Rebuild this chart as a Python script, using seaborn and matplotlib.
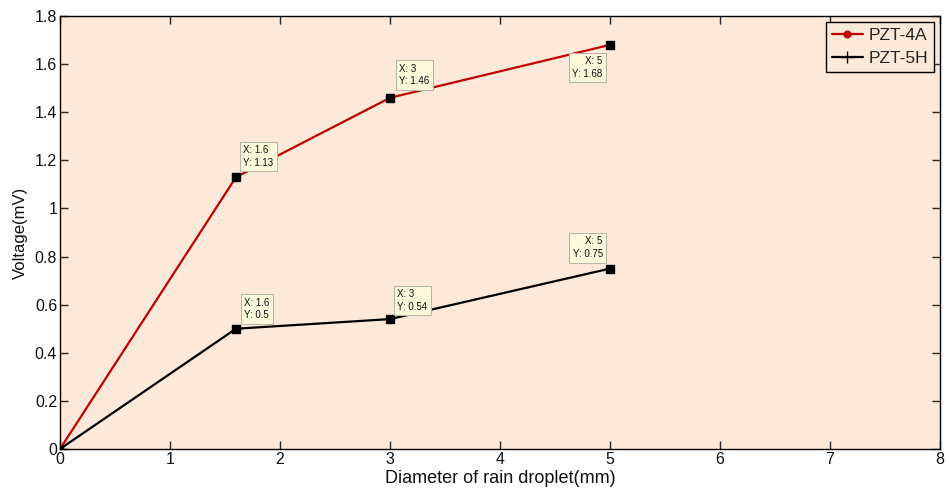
import matplotlib
matplotlib.use("Agg")
import matplotlib.pyplot as plt
import seaborn as sns
import pandas as pd

diameter = [0, 1.6, 3, 5]
pzt4a = [0, 1.13, 1.46, 1.68]
pzt5h = [0, 0.5, 0.54, 0.75]
series_names = ["PZT-4A", "PZT-5H"]
x_ticks = [0, 1, 2, 3, 4, 5, 6, 7, 8]
y_ticks = [0, 0.2, 0.4, 0.6, 0.8, 1, 1.2, 1.4, 1.6, 1.8]

sns.set_style("ticks")
plt.rcParams['font.family'] = ['Liberation Sans', 'DejaVu Sans']

df4a = pd.DataFrame({"x": diameter, "y": pzt4a})
df5h = pd.DataFrame({"x": diameter, "y": pzt5h})

W, H = 949, 492
fig = plt.figure(figsize=(W / 100, H / 100), dpi=100)
ax = fig.add_axes([60 / W, (H - 449) / H, (940 - 60) / W, (449 - 16) / H])
ax.set_facecolor("#fde9d9")

sns.lineplot(data=df4a, x="x", y="y", color="#c00000", marker="o", markersize=4.5,
             markeredgecolor="#c00000", linewidth=1.6, ax=ax, label=series_names[0])
sns.lineplot(data=df5h, x="x", y="y", color="#000000", marker="+", markersize=4.5,
             markeredgecolor="#000000", markeredgewidth=1.0, linewidth=1.6, ax=ax,
             label=series_names[1])

# datatip squares
for xs, ys in ((diameter, pzt4a), (diameter, pzt5h)):
    ax.plot(xs[1:], ys[1:], ls="none", marker="s", color="black", markersize=6, zorder=5)
ax.plot([0], [0], ls="none", marker="s", color="black", markersize=5, zorder=5)

offsets = {
    (1.6, 1.13): (5.3, 6.8, "left", "bottom"),
    (3, 1.46): (6.8, 8.2, "left", "bottom"),
    (5, 1.68): (-5.3, -8.2, "right", "top"),
    (1.6, 0.5): (6.0, 6.0, "left", "bottom"),
    (3, 0.54): (5.3, 5.3, "left", "bottom"),
    (5, 0.75): (-5.3, 6.8, "right", "bottom"),
}
for xs, ys in ((diameter, pzt4a), (diameter, pzt5h)):
    for xv, yv in zip(xs[1:], ys[1:]):
        dx, dy, ha, va = offsets[(xv, yv)]
        ax.annotate(f"X: {xv:g}\nY: {yv:g}", (xv, yv), xytext=(dx, dy),
                    textcoords="offset points", ha=ha, va=va, fontsize=7,
                    linespacing=1.35, color="#111111",
                    bbox=dict(boxstyle="square,pad=0.35", fc="#fbf8dc", ec="#b8b8a8", lw=0.8),
                    zorder=6)

ax.set_xlim(0, 8)
ax.set_ylim(0, 1.8)
ax.set_xticks(x_ticks)
ax.set_yticks(y_ticks)
ax.set_xticklabels([f"{v:g}" for v in x_ticks])
ax.set_yticklabels([f"{v:g}" for v in y_ticks])
ax.tick_params(labelsize=11.5, direction="in", length=6, width=1, top=True, right=True,
               pad=2, labelcolor="#111111")
for sp in ax.spines.values():
    sp.set_visible(True)
    sp.set_color("black")
    sp.set_linewidth(1)
ax.set_xlabel("Diameter of rain droplet(mm)", fontsize=13, labelpad=2, color="#111111")
ax.set_ylabel("Voltage(mV)", fontsize=12, labelpad=5, color="#111111")

leg = ax.legend(loc="upper right", fontsize=12.5, frameon=True, fancybox=False,
                edgecolor="black", framealpha=1, facecolor="#fde9d9",
                handlelength=1.8, handletextpad=0.3, borderaxespad=0.35,
                borderpad=0.35, labelspacing=0.45)
leg.get_frame().set_linewidth(1)
for h, ms in zip(leg.legend_handles, (5, 9)):
    h.set_markersize(ms)

fig.savefig("out.png", dpi=100)
